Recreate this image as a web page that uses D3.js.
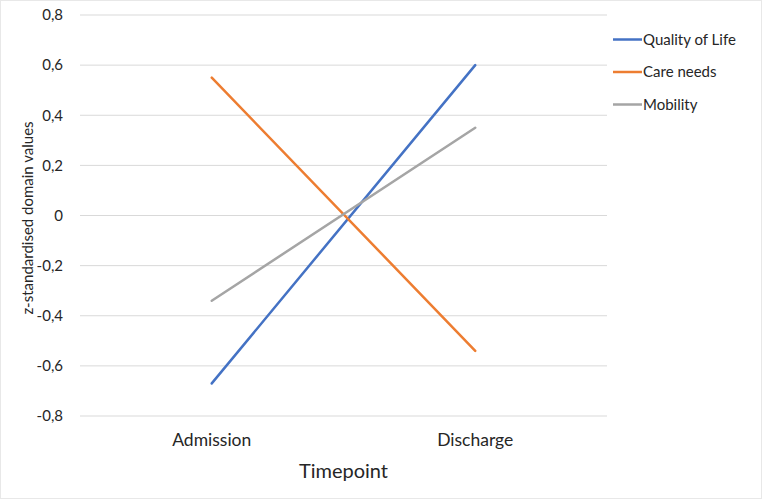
<!DOCTYPE html>
<html>
<head>
<meta charset="utf-8">
<script src="https://cdn.jsdelivr.net/npm/d3@7"></script>
<style>
  body { margin: 0; background: #fff; }
  text { font-family: Lato, "Open Sans", sans-serif; fill: #262626; }
</style>
</head>
<body>
<div id="chart"></div>
<script>
// data
let timepoints = ["Admission", "Discharge"];
let seriesNames = ["Quality of Life", "Care needs", "Mobility"];
let qualityOfLife = [-0.67, 0.60];
let careNeeds = [0.55, -0.54];
let mobility = [-0.34, 0.35];
let yTicks = [-0.8, -0.6, -0.4, -0.2, 0, 0.2, 0.4, 0.6, 0.8];
let colors = ["#4472C4", "#ED7D31", "#A5A5A5"];

let width = 762;
let height = 499;
let plot = { left: 80, right: 607, top: 15, bottom: 416 };

let svg = d3.select("#chart").append("svg")
  .attr("width", width)
  .attr("height", height);

svg.append("rect")
  .attr("x", 0.5).attr("y", 0.5)
  .attr("width", width - 1).attr("height", height - 1)
  .attr("fill", "none")
  .attr("stroke", "#e8e8e8");

let x = d3.scaleBand()
  .domain(timepoints)
  .range([plot.left, plot.right]);

let y = d3.scaleLinear()
  .domain([-0.8, 0.8])
  .range([plot.bottom, plot.top]);

let fmt = (d) => d === 0 ? "0" : d3.format(".1f")(d).replace(".", ",").replace("−", "-");

// gridlines
svg.append("g")
  .selectAll("line")
  .data(yTicks)
  .join("line")
  .attr("x1", plot.left)
  .attr("x2", plot.right)
  .attr("y1", (d) => y(d))
  .attr("y2", (d) => y(d))
  .attr("stroke", "#d9d9d9")
  .attr("stroke-width", 1);

// y axis labels
let yAxis = svg.append("g")
  .attr("transform", `translate(${plot.left - 14},0)`)
  .call(d3.axisLeft(y).tickValues(yTicks).tickFormat(fmt).tickSize(0));
yAxis.select(".domain").remove();
yAxis.selectAll("text")
  .attr("font-size", 15)
  .attr("font-family", "Lato, sans-serif")
  .attr("fill", "#404040");

// x axis labels
let xAxis = svg.append("g")
  .attr("transform", `translate(0,${plot.bottom + 15})`)
  .call(d3.axisBottom(x).tickSize(0));
xAxis.select(".domain").remove();
xAxis.selectAll("text")
  .attr("font-size", 17.5)
  .attr("font-family", "Lato, sans-serif")
  .attr("fill", "#404040");

// axis titles
svg.append("text")
  .attr("x", (plot.left + plot.right) / 2)
  .attr("y", 478)
  .attr("text-anchor", "middle")
  .attr("font-size", 20)
  .text("Timepoint");

svg.append("text")
  .attr("transform", `translate(33,218) rotate(-90)`)
  .attr("text-anchor", "middle")
  .attr("font-size", 15)
  .text("z-standardised domain values");

// lines
let series = [qualityOfLife, careNeeds, mobility];
let line = d3.line()
  .x((d, i) => x(timepoints[i]) + x.bandwidth() / 2)
  .y((d) => y(d));

svg.append("g")
  .selectAll("path")
  .data(series)
  .join("path")
  .attr("d", line)
  .attr("fill", "none")
  .attr("stroke", (d, i) => colors[i])
  .attr("stroke-width", 2.5)
  .attr("stroke-linecap", "round");

// legend
let legend = svg.append("g")
  .selectAll("g")
  .data(seriesNames)
  .join("g")
  .attr("transform", (d, i) => `translate(613,${39.5 + i * 32.5})`);
legend.append("line")
  .attr("x1", 0).attr("x2", 29)
  .attr("stroke", (d, i) => colors[i])
  .attr("stroke-width", 2.5);
legend.append("text")
  .attr("x", 30)
  .attr("dy", "0.35em")
  .attr("font-size", 15)
  .text((d) => d);
</script>
</body>
</html>
